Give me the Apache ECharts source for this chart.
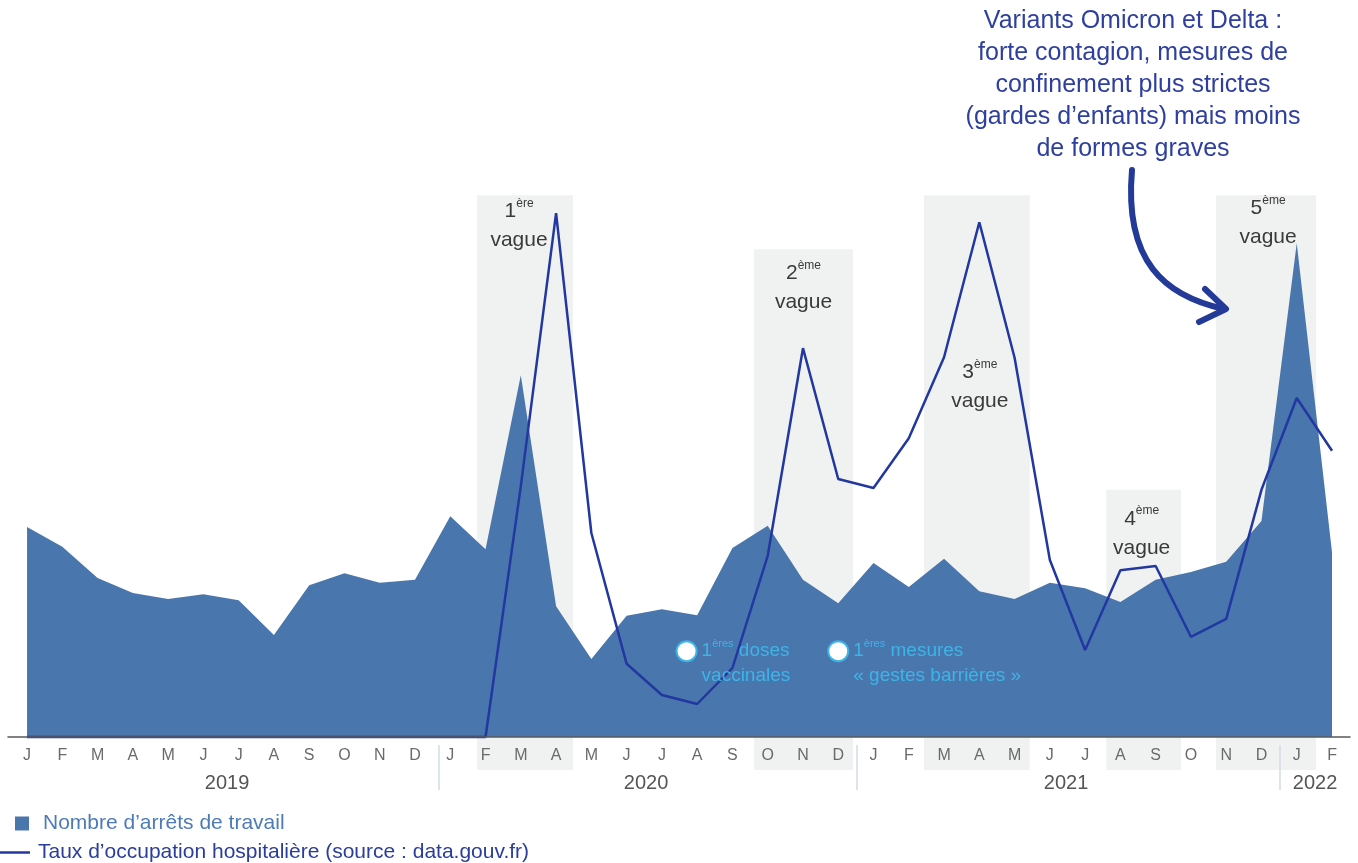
<!DOCTYPE html>
<html>
<head>
<meta charset="utf-8">
<script src="https://cdn.jsdelivr.net/npm/echarts@6/dist/echarts.min.js"></script>
<style>
  html, body { margin: 0; padding: 0; background: #fff; }
  #chart { width: 1358px; height: 863px; }
</style>
</head>
<body>
<div id="chart"></div>
<script>
// mois de janvier 2019 à février 2022
const MONTHS = ['J','F','M','A','M','J','J','A','S','O','N','D',
                'J','F','M','A','M','J','J','A','S','O','N','D',
                'J','F','M','A','M','J','J','A','S','O','N','D',
                'J','F']

// nombre d'arrêts de travail (indice)
const ARRETS = [35.0, 31.7, 26.5, 24.0, 23.0, 23.8, 22.8, 17.0, 25.3, 27.3, 25.7, 26.2,
                36.8, 31.3, 60.3, 21.8, 13.0, 20.2, 21.3, 20.3, 31.5, 35.2, 26.2, 22.3,
                29.0, 25.0, 29.7, 24.3, 23.0, 25.7, 24.8, 22.5, 26.2, 27.5, 29.2, 36.0,
                82.3, 30.8]

// taux d'occupation hospitalière (indice)
const HOSPI = [0, 0, 0, 0, 0, 0, 0, 0, 0, 0, 0, 0,
               0, 0, 41.8, 87.3, 34.0, 12.2, 7.0, 5.5, 11.5, 30.2, 64.8, 43.0,
               41.5, 49.8, 63.3, 85.8, 63.2, 29.5, 14.5, 27.8, 28.5, 16.7, 19.7, 41.2,
               56.5, 47.7]

// vagues : début, fin (en mois), hauteur du bandeau, libellé
const WAVE_NUM = ['1', '2', '3', '4', '5']
const WAVE_SUP = ['ère', 'ème', 'ème', 'ème', 'ème']
const WAVE_START = [12.76, 20.61, 25.43, 30.6, 33.71]
const WAVE_END = [15.48, 23.42, 28.43, 32.72, 36.55]
const WAVE_TOP = [90.3, 81.3, 90.3, 41.2, 90.3]

const YEARS = ['2019', '2020', '2021', '2022']
const YEAR_POS = [5.67, 17.55, 29.46, 36.52]
const YEAR_SEP = [11.68, 23.53, 35.53]

// repères "1ères ..."
const NOTE_POS = [[18.7, 14.3], [23.0, 14.3]]
const NOTE_TEXT = [
  '{n|1}{s|ères}{t| doses}\n{t|vaccinales}',
  '{n|1}{s|ères}{t| mesures}\n{t|« gestes barrières »}'
]

const FONT = '"Liberation Sans", Arial, sans-serif'
const AREA_COLOR = '#4a76ae'
const LINE_COLOR = '#2238a0'

const labelOffsets = [[-6, -3], [0, 5], [3, 158], [-2, 10], [2, -6]]

const waveAreas = WAVE_NUM.map((n, i) => [
  {
    xAxis: WAVE_START[i],
    yAxis: WAVE_TOP[i],
    label: {
      formatter: '{n|' + n + '}{s|' + WAVE_SUP[i] + '}\n{v|vague}',
      offset: labelOffsets[i]
    }
  },
  { xAxis: WAVE_END[i], yAxis: -5.5 }
])

const chart = echarts.init(document.getElementById('chart'))

const option = {
  animation: false,
  textStyle: { fontFamily: FONT },
  grid: { left: 8, right: 8, top: 137, bottom: 93 },
  legend: [
    {
      data: ['Nombre d’arrêts de travail'],
      left: 15, top: 813, padding: 0,
      icon: 'rect', itemWidth: 14, itemHeight: 14,
      textStyle: { color: '#4d7bb8', fontSize: 21, fontFamily: FONT, padding: [0, 0, 0, 9] }
    },
    {
      data: ['Taux d’occupation hospitalière (source : data.gouv.fr)'],
      left: 0, top: 842, padding: 0,
      icon: 'rect', itemWidth: 30, itemHeight: 2.5,
      textStyle: { color: '#2a3d9c', fontSize: 21, fontFamily: FONT, padding: [0, 0, 0, 3] }
    }
  ],
  xAxis: [
    {
      type: 'value',
      min: -0.54, max: 37.51,
      position: 'bottom',
      offset: -33,
      z: 5,
      axisLine: { onZero: false, lineStyle: { color: '#5a5a5a', width: 1.5 } },
      axisTick: { show: false },
      splitLine: { show: false },
      axisLabel: {
        customValues: MONTHS.map((m, i) => i),
        formatter: v => MONTHS[Math.round(v)],
        color: '#6a6a6a', fontSize: 16, margin: 11, fontFamily: FONT
      }
    },
    {
      type: 'value',
      min: -0.54, max: 37.51,
      position: 'bottom',
      offset: -25,
      z: 5,
      axisLine: { show: false, onZero: false },
      splitLine: { show: false },
      axisTick: {
        show: true,
        customValues: YEAR_SEP,
        length: 45,
        lineStyle: { color: '#d3dbe6', width: 1.5 }
      },
      axisLabel: {
        customValues: YEAR_POS,
        formatter: v => YEARS[YEAR_POS.indexOf(v)],
        color: '#555', fontSize: 20, margin: 28, fontFamily: FONT
      }
    }
  ],
  yAxis: {
    type: 'value', min: -5.5, max: 100,
    show: false, splitLine: { show: false }
  },
  series: [
    {
      name: 'vagues',
      type: 'line',
      z: 1,
      silent: true,
      symbol: 'none',
      lineStyle: { width: 0, opacity: 0 },
      data: ARRETS.map((v, i) => [i, v]),
      markArea: {
        silent: true,
        itemStyle: { color: '#f0f1f1' },
        label: {
          position: 'insideTop',
          color: '#3a3a3a',
          fontFamily: FONT,
          rich: {
            n: { fontSize: 21, lineHeight: 28, color: '#3a3a3a', fontFamily: FONT },
            s: { fontSize: 12, lineHeight: 28, verticalAlign: 'top', color: '#3a3a3a', fontFamily: FONT },
            v: { fontSize: 21, lineHeight: 30, color: '#3a3a3a', fontFamily: FONT }
          }
        },
        data: waveAreas
      }
    },
    {
      name: 'Nombre d’arrêts de travail',
      type: 'line',
      z: 2,
      symbol: 'none',
      itemStyle: { color: AREA_COLOR },
      lineStyle: { width: 0 },
      areaStyle: { color: AREA_COLOR, opacity: 1 },
      data: ARRETS.map((v, i) => [i, v])
    },
    {
      name: 'Taux d’occupation hospitalière (source : data.gouv.fr)',
      type: 'line',
      z: 3,
      symbol: 'none',
      itemStyle: { color: LINE_COLOR },
      lineStyle: { color: LINE_COLOR, width: 2.5 },
      data: HOSPI.map((v, i) => [i, v])
    },
    {
      name: 'repères',
      type: 'scatter',
      z: 4,
      silent: true,
      symbol: 'circle',
      symbolSize: 20,
      itemStyle: { color: '#fff', opacity: 1, borderColor: '#3cb5e6', borderWidth: 2 },
      label: {
        show: true,
        position: 'right',
        distance: 4,
        align: 'left',
        offset: [0, 12],
        formatter: p => NOTE_TEXT[p.dataIndex],
        rich: {
          n: { fontSize: 19, lineHeight: 25, color: '#3cb5e6', fontFamily: FONT },
          s: { fontSize: 11, lineHeight: 25, verticalAlign: 'top', color: '#3cb5e6', fontFamily: FONT },
          t: { fontSize: 19, lineHeight: 25, color: '#3cb5e6', fontFamily: FONT }
        }
      },
      data: NOTE_POS
    }
  ],
  graphic: [
    {
      type: 'text',
      x: 1133, y: 5,
      z: 100,
      style: {
        text: 'Variants Omicron et Delta :\nforte contagion, mesures de\nconfinement plus strictes\n(gardes d’enfants) mais moins\nde formes graves',
        align: 'center',
        textAlign: 'center',
        fill: '#2e3f9f',
        font: '25px ' + FONT,
        lineHeight: 32
      }
    },
    {
      type: 'bezierCurve',
      z: 100,
      shape: { x1: 1132, y1: 170, cpx1: 1124, cpy1: 262, cpx2: 1165, cpy2: 296, x2: 1224, y2: 309 },
      style: { stroke: '#243a98', lineWidth: 6, fill: null, lineCap: 'round' }
    },
    {
      type: 'polyline',
      z: 100,
      shape: { points: [[1205, 289], [1226, 309], [1199, 322]] },
      style: { stroke: '#243a98', lineWidth: 6, fill: null, lineCap: 'round', lineJoin: 'round' }
    }
  ]
}

chart.setOption(option)
</script>
</body>
</html>
